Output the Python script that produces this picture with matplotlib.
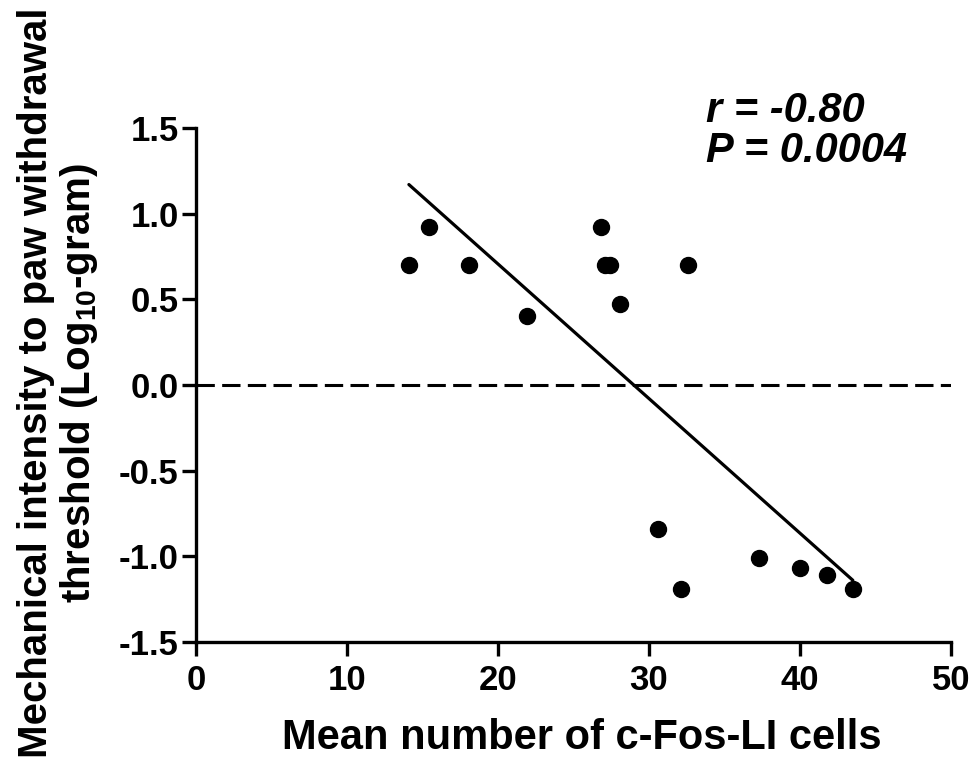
import numpy as np
import matplotlib
matplotlib.use("Agg")
import matplotlib.pyplot as plt

plt.rcParams['font.family'] = ['Liberation Sans', 'DejaVu Sans']
plt.rcParams['mathtext.fontset'] = 'custom'
plt.rcParams['mathtext.rm'] = 'Liberation Sans:bold'
plt.rcParams['mathtext.it'] = 'Liberation Sans:bold:italic'
plt.rcParams['mathtext.bf'] = 'Liberation Sans:bold'

# data
cfos_cells = [14.1, 15.4, 18.1, 21.9, 26.8, 27.1, 27.4, 28.1, 32.6,
              30.6, 32.1, 37.3, 40.0, 41.8, 43.5]
threshold = [0.70, 0.92, 0.70, 0.40, 0.92, 0.70, 0.70, 0.47, 0.70,
             -0.84, -1.19, -1.01, -1.07, -1.11, -1.19]

# regression line ends
fit_x = [14.1, 43.5]
fit_y = [1.17, -1.14]

xticks = [0, 10, 20, 30, 40, 50]
yticks = [-1.5, -1.0, -0.5, 0.0, 0.5, 1.0, 1.5]

fig = plt.figure(figsize=(9.73, 7.67), dpi=100)
ax = fig.add_axes([0.2014, 0.1630, 0.7760, 0.6701])

ax.axhline(0, color='k', lw=2.2, ls=(0, (6, 2.4)), zorder=1)
ax.plot(fit_x, fit_y, color='k', lw=2.3, solid_capstyle='round', zorder=2)
ax.plot(cfos_cells, threshold, 'o', color='k', ms=11.5, zorder=3)

ax.set_xlim(0, 50)
ax.set_ylim(-1.5, 1.5)
ax.set_xticks(xticks)
ax.set_yticks(yticks)
ax.set_xticklabels([str(t) for t in xticks])
ax.set_yticklabels(['%.1f' % t for t in yticks])

for s in ['top', 'right']:
    ax.spines[s].set_visible(False)
for s in ['left', 'bottom']:
    ax.spines[s].set_linewidth(2.4)
ax.tick_params(width=2.4, length=10, labelsize=25)
ax.tick_params(axis='x', pad=6)
ax.tick_params(axis='y', pad=2.5)
for lab in ax.get_xticklabels() + ax.get_yticklabels():
    lab.set_fontweight('bold')

ax.set_xlabel('Mean number of c-Fos-LI cells', fontsize=30, fontweight='bold', va='center')
ax.xaxis.set_label_coords(0.511, -0.186)
ax.set_ylabel('Mechanical intensity to paw withdrawal\nthreshold (Log$_{10}$-gram)',
              fontsize=29, fontweight='bold', linespacing=1.07, va='center')
ax.yaxis.set_label_coords(-0.182, 0.504)

ax.text(0.675, 0.994, 'r = -0.80\nP = 0.0004', transform=ax.transAxes,
        fontsize=30, fontweight='bold', fontstyle='italic', va='center', ha='left',
        linespacing=1.0)

fig.savefig('out.png', dpi=100)
